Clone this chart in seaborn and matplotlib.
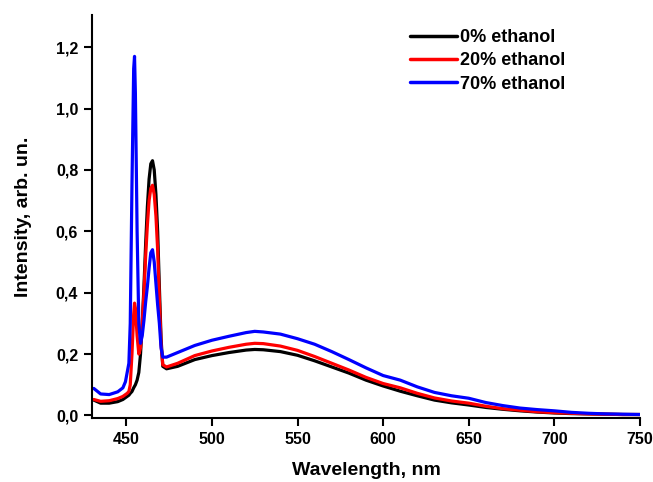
import numpy as np
import pandas as pd
import matplotlib
matplotlib.use("Agg")
import matplotlib.pyplot as plt
import seaborn as sns

wavelength = [431, 435, 440, 445, 448, 449.5, 450.5, 451.5, 452.3, 453.3, 454.3, 454.8, 455.3, 456.3, 457.3,
              458.3, 459.3, 460.3, 461.3, 462.3, 463.3, 464.3, 465.3, 466.3, 467.3, 468.3, 469.3, 470.3, 471.3, 473.5,
              480, 490, 500, 510, 520, 525, 530, 540, 550, 560, 570, 580, 590, 600, 610,
              620, 630, 640, 650, 660, 670, 680, 690, 700, 710, 720, 730, 740, 750]

ethanol_0 = [0.050, 0.040, 0.040, 0.045, 0.052, 0.058, 0.062, 0.066, 0.072, 0.078, 0.090, 0.095, 0.100, 0.115, 0.140,
             0.200, 0.300, 0.420, 0.560, 0.680, 0.770, 0.820, 0.830, 0.800, 0.720, 0.600, 0.420, 0.250, 0.160, 0.152,
             0.160, 0.182, 0.195, 0.205, 0.213, 0.215, 0.214, 0.208, 0.196, 0.178, 0.158, 0.138, 0.115, 0.096, 0.079,
             0.064, 0.050, 0.041, 0.034, 0.026, 0.020, 0.015, 0.011, 0.008, 0.006, 0.005, 0.004, 0.003, 0.003]

ethanol_20 = [0.052, 0.046, 0.048, 0.055, 0.062, 0.068, 0.072, 0.078, 0.100, 0.200, 0.330, 0.366, 0.350, 0.260, 0.200,
              0.220, 0.300, 0.400, 0.520, 0.620, 0.700, 0.740, 0.750, 0.720, 0.650, 0.540, 0.380, 0.230, 0.165, 0.158,
              0.170, 0.195, 0.210, 0.222, 0.232, 0.235, 0.234, 0.226, 0.212, 0.192, 0.170, 0.148, 0.124, 0.104, 0.090,
              0.072, 0.057, 0.047, 0.040, 0.030, 0.022, 0.017, 0.012, 0.009, 0.007, 0.005, 0.004, 0.003, 0.003]

ethanol_70 = [0.088, 0.070, 0.068, 0.077, 0.090, 0.110, 0.140, 0.170, 0.300, 0.750, 1.130, 1.170, 1.050, 0.600, 0.300,
              0.235, 0.260, 0.310, 0.370, 0.420, 0.480, 0.530, 0.540, 0.500, 0.430, 0.360, 0.300, 0.220, 0.190, 0.190,
              0.205, 0.228, 0.245, 0.258, 0.270, 0.274, 0.272, 0.265, 0.250, 0.232, 0.208, 0.182, 0.155, 0.130, 0.115,
              0.093, 0.075, 0.064, 0.056, 0.042, 0.032, 0.024, 0.019, 0.015, 0.010, 0.007, 0.005, 0.004, 0.003]

series_names = ["0% ethanol", "20% ethanol", "70% ethanol"]
series_colors = ["#000000", "#ff0000", "#0000ff"]
x_ticks = [450, 500, 550, 600, 650, 700, 750]
y_ticks = [0.0, 0.2, 0.4, 0.6, 0.8, 1.0, 1.2]
y_tick_labels = ["0,0", "0,2", "0,4", "0,6", "0,8", "1,0", "1,2"]

df = pd.concat([
    pd.DataFrame({"wl": wavelength, "I": vals, "s": name})
    for name, vals in zip(series_names, [ethanol_0, ethanol_20, ethanol_70])
])

sns.set_style("ticks")
plt.rcParams["font.family"] = ["Liberation Sans", "DejaVu Sans"]
plt.rcParams["font.weight"] = "bold"
plt.rcParams["text.color"] = "black"
plt.rcParams["axes.labelcolor"] = "black"
plt.rcParams["xtick.color"] = "black"
plt.rcParams["ytick.color"] = "black"
plt.rcParams["axes.edgecolor"] = "black"

fig = plt.figure(figsize=(6.53, 4.82), dpi=100)
ax = fig.add_axes([0.141, 0.133, 0.839, 0.836])

sns.lineplot(data=df, x="wl", y="I", hue="s", palette=series_colors,
             hue_order=series_names, estimator=None, linewidth=2.3, ax=ax, legend=True)

ax.set_xlim(430, 750)
ax.set_ylim(-0.008, 1.305)
ax.set_xticks(x_ticks)
ax.set_xticklabels([str(t) for t in x_ticks], fontsize=11.5, fontweight="bold")
ax.set_yticks(y_ticks)
ax.set_yticklabels(y_tick_labels, fontsize=11.5, fontweight="bold")
ax.set_xlabel("Wavelength, nm", fontsize=14, fontweight="bold", labelpad=11)
ax.set_ylabel("Intensity, arb. un.", fontsize=14, fontweight="bold", labelpad=17)

for side in ["top", "right"]:
    ax.spines[side].set_visible(False)
for side in ["left", "bottom"]:
    ax.spines[side].set_linewidth(1.5)
ax.tick_params(direction="out", length=6, width=1.5, pad=4, colors="black")

handles, labels = ax.get_legend_handles_labels()
for h in handles:
    h.set_linewidth(2.5)
ax.legend(handles, labels, frameon=False, loc="upper left",
          bbox_to_anchor=(0.55, 1.005), handlelength=2.6, handletextpad=0.2,
          labelspacing=0.35, prop={"size": 13, "weight": "bold"})

fig.savefig("out.png", dpi=100)
